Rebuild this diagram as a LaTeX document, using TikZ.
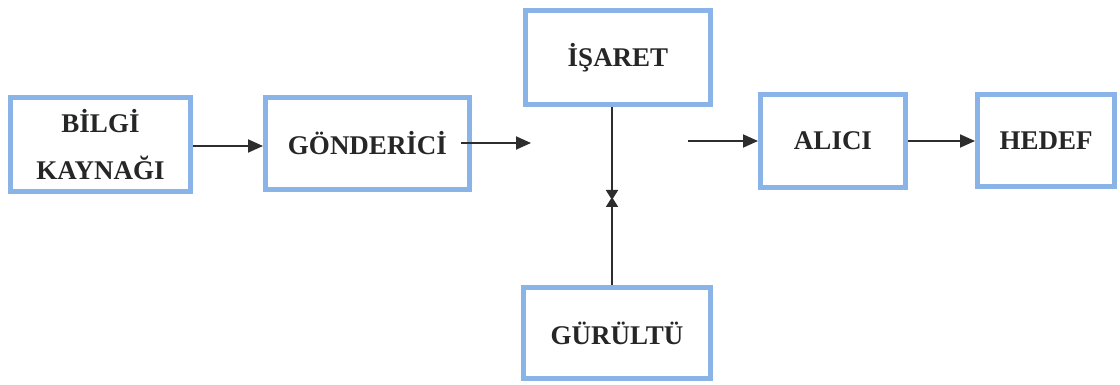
\documentclass[tikz,border=0pt]{standalone}
\usepackage{fontspec}
\setmainfont{Liberation Serif}
\usetikzlibrary{arrows.meta}
\definecolor{boxblue}{RGB}{138,180,232}
\definecolor{arrowgray}{RGB}{45,45,45}
\tikzset{
  blockbox/.style={draw=boxblue, line width=5pt, fill=white, inner sep=0pt,
    font=\fontsize{27}{47}\selectfont\bfseries, text=black!85, align=center},
  harrow/.style={draw=arrowgray, line width=1.9pt, -{Triangle[length=15pt,width=13pt]}},
  varrow/.style={draw=arrowgray, line width=1.9pt, -{Triangle[length=10pt,width=12pt]}}
}
\begin{document}
\begin{tikzpicture}[x=1pt,y=-1pt]
\useasboundingbox (0,0) rectangle (1120,385);
\node[blockbox, minimum width=180pt, minimum height=94pt] (bilgi) at (100.5,144.5) {BİLGİ\\KAYNAĞI};
\node[blockbox, minimum width=204pt, minimum height=92pt] (gonderici) at (367.5,143.5) {GÖNDERİCİ};
\node[blockbox, minimum width=185pt, minimum height=94pt] (isaret) at (618,57.5) {İŞARET};
\node[blockbox, minimum width=187pt, minimum height=91pt] (gurultu) at (617,333) {GÜRÜLTÜ};
\node[blockbox, minimum width=145pt, minimum height=93pt] (alici) at (833,141) {ALICI};
\node[blockbox, minimum width=137pt, minimum height=92pt] (hedef) at (1046,140.5) {HEDEF};
% connectors
\draw[harrow] (bilgi.east |- 0,146) -- (gonderici.west |- 0,146);
\coordinate (gstart) at (461,143);
\coordinate (gend) at (531,143);
\draw[harrow] (gstart) -- (gend);
\coordinate (astart) at (688,141);
\draw[harrow] (astart) -- (alici.west |- astart);
\draw[harrow] (alici.east |- 0,141) -- (hedef.west |- 0,141);
\coordinate (meetA) at (612,200);
\coordinate (meetB) at (612,197);
\draw[varrow] (meetA |- isaret.south) -- (meetA);
\draw[varrow] (meetB |- gurultu.north) -- (meetB);
\end{tikzpicture}
\end{document}
